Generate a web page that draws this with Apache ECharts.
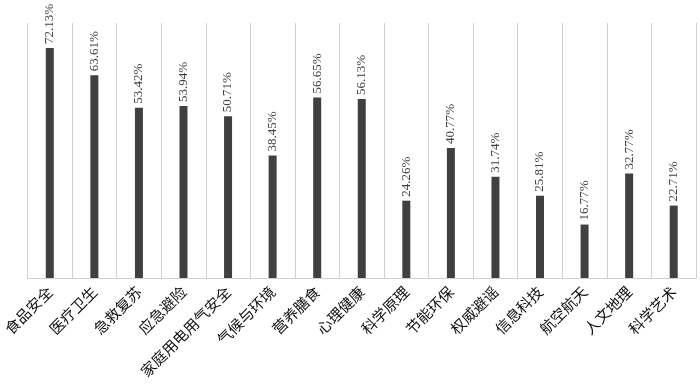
<!DOCTYPE html>
<html><head><meta charset="utf-8">
<script src="https://cdn.jsdelivr.net/npm/echarts@6/dist/echarts.min.js"></script>
<style>html,body{margin:0;padding:0;background:#fff}#c{width:700px;height:389px}</style>
</head><body><div id="c"></div>
<script>
const categories = ['食品安全','医疗卫生','急救复苏','应急避险','家庭用电用气安全','气候与环境','营养膳食','心理健康','科学原理','节能环保','权威避谣','信息科技','航空航天','人文地理','科学艺术'];
const values = [72.13,63.61,53.42,53.94,50.71,38.45,56.65,56.13,24.26,40.77,31.74,25.81,16.77,32.77,22.71];
const chart = echarts.init(document.getElementById('c'), null, {renderer:'canvas'});
chart.setOption({
  animation:false,
  grid:{left:26,right:4,top:23,bottom:111,containLabel:false},
  xAxis:{type:'category',data:categories,boundaryGap:true,
    axisLine:{lineStyle:{color:'#d0d0d0',width:1}},
    axisTick:{show:false},
    splitLine:{show:true,interval:0,lineStyle:{color:'#d0d0d0',width:1}},
    axisLabel:{interval:0,rotate:45,fontFamily:'Noto Sans CJK SC',fontSize:15,color:'#111',margin:11}},
  yAxis:{type:'value',min:0,max:80,show:false,splitLine:{show:false}},
  series:[{type:'bar',data:values,barWidth:8,itemStyle:{color:'#404040'},
    label:{show:true,position:'top',rotate:90,align:'left',verticalAlign:'middle',distance:4,
      fontFamily:'Liberation Serif',fontSize:13,color:'#404040',formatter:p=>p.value.toFixed(2)+'%'}}]
});
</script></body></html>
